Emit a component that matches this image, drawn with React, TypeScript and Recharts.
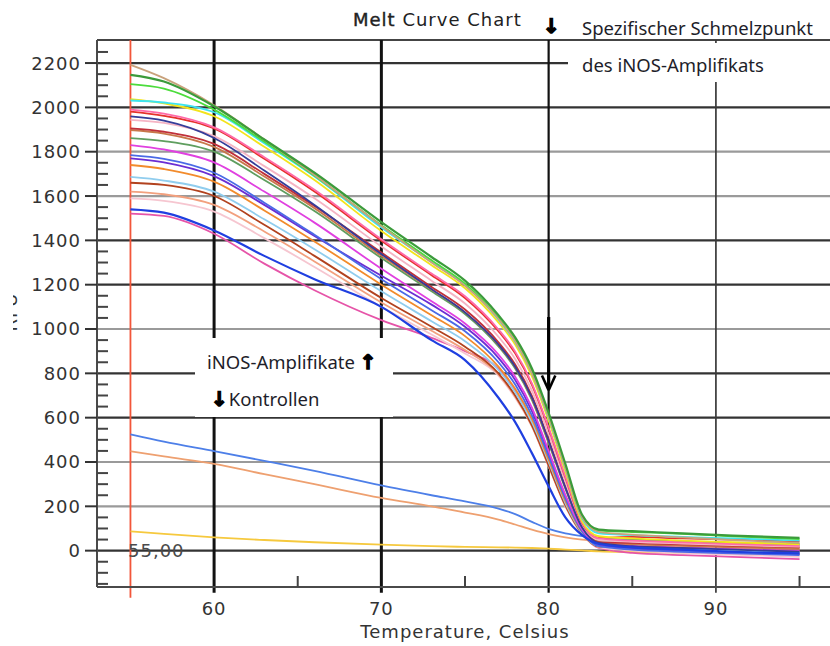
import { LineChart, Line, XAxis, YAxis, ReferenceLine } from 'recharts';

// melt temperatures (°C) at which each trace is sampled
const TEMPS = [55, 57, 60, 63, 66, 70, 73, 75, 77, 78, 79, 80, 81, 82, 83, 85, 88, 91, 95];

// iNOS amplicon traces (RFU)
const tan = [2192, 2132, 2010, 1855, 1695, 1465, 1300, 1195, 1045, 945, 800, 605, 375, 150, 85, 72, 60, 48, 35];
const green = [2147, 2117, 2005, 1855, 1705, 1482, 1325, 1218, 1062, 962, 822, 622, 392, 162, 95, 88, 78, 68, 58];
const lime = [2105, 2085, 1990, 1845, 1692, 1468, 1310, 1205, 1050, 950, 808, 608, 380, 152, 90, 84, 76, 64, 52];
const cyan = [2031, 2022, 1978, 1838, 1688, 1458, 1302, 1198, 1042, 942, 800, 600, 372, 145, 78, 70, 62, 55, 45];
const yellow = [2037, 2018, 1960, 1822, 1672, 1442, 1288, 1184, 1030, 930, 786, 586, 358, 132, 65, 55, 45, 38, 28];
const hotPink = [1990, 1972, 1910, 1775, 1628, 1405, 1250, 1148, 998, 898, 755, 555, 335, 128, 55, 45, 38, 30, 22];
const red = [1981, 1962, 1905, 1768, 1620, 1398, 1243, 1140, 990, 890, 748, 550, 330, 125, 58, 62, 55, 50, 42];
const navy = [1959, 1940, 1862, 1715, 1560, 1338, 1180, 1075, 930, 830, 690, 495, 285, 105, 35, 20, 12, 5, -5];
const blush = [1944, 1930, 1870, 1735, 1590, 1372, 1218, 1115, 965, 865, 722, 525, 310, 115, 48, 40, 32, 25, 18];
const darkRed = [1905, 1890, 1835, 1700, 1555, 1345, 1190, 1088, 940, 840, 698, 500, 290, 110, 38, 35, 28, 22, 15];
const sienna = [1898, 1882, 1822, 1688, 1545, 1330, 1178, 1075, 928, 828, 686, 490, 285, 108, 40, 30, 22, 15, 8];
const sage = [1861, 1848, 1800, 1672, 1532, 1320, 1170, 1068, 922, 822, 680, 485, 280, 105, 42, 48, 40, 35, 30];
const magenta = [1830, 1810, 1752, 1620, 1480, 1272, 1125, 1025, 885, 785, 645, 450, 252, 95, 30, 22, 15, 8, 0];
const blue = [1785, 1768, 1705, 1570, 1425, 1225, 1085, 990, 850, 750, 610, 425, 235, 88, 20, 5, -5, -12, -20];
const purple = [1770, 1752, 1690, 1560, 1420, 1240, 1110, 1010, 870, 770, 630, 440, 245, 90, 25, 10, 0, -8, -15];
const orange = [1740, 1722, 1665, 1535, 1395, 1200, 1062, 968, 830, 730, 595, 410, 225, 85, 28, 30, 25, 20, 15];
const skyBlue = [1686, 1670, 1620, 1495, 1360, 1170, 1035, 945, 815, 715, 580, 400, 215, 80, 20, 12, 5, 0, -6];
const rust = [1660, 1650, 1600, 1470, 1330, 1140, 1010, 920, 800, 700, 565, 385, 205, 78, 18, 15, 10, 6, 0];
const salmon = [1620, 1608, 1560, 1440, 1305, 1120, 992, 905, 795, 695, 562, 382, 202, 76, 22, 18, 12, 5, -3];
const paleRose = [1589, 1578, 1530, 1410, 1280, 1100, 975, 890, 790, 690, 560, 380, 200, 75, 15, 0, -10, -18, -28];
const royal = [1540, 1525, 1445, 1330, 1225, 1100, 950, 860, 690, 580, 440, 290, 150, 70, 30, 15, 5, -5, -12];
const orchid = [1521, 1510, 1430, 1295, 1175, 1040, 960, 900, 820, 720, 580, 390, 205, 78, 12, -10, -20, -28, -38];

// control wells
const ctrlBlue = [525, 492, 449, 405, 360, 294, 250, 222, 190, 165, 130, 98, 78, 66, 58, 50, 40, 32, 24];
const ctrlOrange = [449, 425, 392, 345, 300, 238, 200, 172, 140, 118, 95, 75, 60, 50, 44, 38, 30, 22, 14];
const ctrlYellow = [87, 76, 60, 48, 38, 27, 20, 17, 15, 14, 12, 9, 5, 1, -3, -6, -9, -12, -16];

const Y_LABELS = [0, 200, 400, 600, 800, 1000, 1200, 1400, 1600, 1800, 2000, 2200];
const X_TICKS = [60, 65, 70, 75, 80, 85, 90, 95];
const X_LABELS = [60, 70, 80, 90];
const MELT_POINT = 80;
const START_TEMP = 55;

const Y_MIN = -164;
const Y_MAX = 2304;

// drawn bottom-up so the upper traces sit on top
const SERIES: { key: string; values: number[] }[] = [
  { key: 'ctrlYellow', values: ctrlYellow },
  { key: 'ctrlOrange', values: ctrlOrange },
  { key: 'ctrlBlue', values: ctrlBlue },
  { key: 'orchid', values: orchid },
  { key: 'paleRose', values: paleRose },
  { key: 'salmon', values: salmon },
  { key: 'rust', values: rust },
  { key: 'skyBlue', values: skyBlue },
  { key: 'orange', values: orange },
  { key: 'purple', values: purple },
  { key: 'blue', values: blue },
  { key: 'magenta', values: magenta },
  { key: 'sage', values: sage },
  { key: 'sienna', values: sienna },
  { key: 'darkRed', values: darkRed },
  { key: 'blush', values: blush },
  { key: 'navy', values: navy },
  { key: 'red', values: red },
  { key: 'hotPink', values: hotPink },
  { key: 'yellow', values: yellow },
  { key: 'cyan', values: cyan },
  { key: 'lime', values: lime },
  { key: 'tan', values: tan },
  { key: 'green', values: green },
  { key: 'royal', values: royal },
];

const COLORS: Record<string, string> = {
  tan: '#c9a27c',
  green: '#3b9b3b',
  lime: '#4cdc3c',
  cyan: '#3ee4ee',
  yellow: '#f3e31c',
  hotPink: '#ff6aa8',
  red: '#e5322b',
  navy: '#353d99',
  blush: '#f5b4c4',
  darkRed: '#c0303a',
  sienna: '#c8784a',
  sage: '#5f9e5f',
  magenta: '#e040e0',
  blue: '#4a6ae6',
  purple: '#6b2ed4',
  orange: '#f28b2c',
  skyBlue: '#90cdee',
  rust: '#b2421e',
  salmon: '#f2a07e',
  paleRose: '#f6c6d0',
  royal: '#1f3fe0',
  orchid: '#e654a8',
  ctrlBlue: '#4d7fe8',
  ctrlOrange: '#eea070',
  ctrlYellow: '#f6c93e',
};

const DARK_GRID = new Set([0, 600, 800, 1200, 1400, 2000, 2200]);

const rows = TEMPS.map((t, i) => {
  const row: Record<string, number> = { t };
  SERIES.forEach((s) => {
    row[s.key] = s.values[i];
  });
  return row;
});

// y ticks every 50, labelled every 200
const yTicks: number[] = [];
for (let v = -150; v <= 2250; v += 50) yTicks.push(v);

const AXIS_FONT = { fontFamily: 'DejaVu Sans', fontSize: 18, letterSpacing: 1, fill: '#333' };
const NOTE_FONT = { fontFamily: 'Noto Sans', fontSize: 18.5, fill: '#1e1e2a' };
const ARROW_FONT = { fontFamily: 'DejaVu Sans', fontWeight: 'bold', fontSize: 20, fill: '#000', stroke: '#000', strokeWidth: 1.4 };

function YTick({ x, y, payload }: any) {
  const v = payload.value;
  if (Y_LABELS.includes(v)) {
    return (
      <g>
        <line x1={x - 12} x2={x} y1={y} y2={y} stroke="#333" strokeWidth={2} />
        <text x={x - 16} y={y} dy="0.36em" textAnchor="end" {...AXIS_FONT}>
          {v}
        </text>
      </g>
    );
  }
  return <line x1={x} x2={x + 11} y1={y} y2={y} stroke="#444" strokeWidth={2} />;
}

function XTick({ x, y, payload }: any) {
  const v = payload.value;
  if (X_LABELS.includes(v)) {
    return (
      <text x={x} y={y + 28} textAnchor="middle" {...AXIS_FONT}>
        {v}
      </text>
    );
  }
  return <line x1={x} x2={x} y1={y} y2={y - 11} stroke="#444" strokeWidth={2} />;
}

export default function App() {
  return (
    <div style={{ position: 'absolute', left: 0, top: 0, width: 830, height: 646, overflow: 'hidden', background: '#fff' }}>
      <LineChart width={833} height={646} data={rows} margin={{ top: 40, right: 0, bottom: 0, left: 37 }}>
        <XAxis
          type="number"
          dataKey="t"
          domain={[53, 97]}
          ticks={X_TICKS}
          interval={0}
          allowDataOverflow
          height={59}
          tickSize={0}
          tickMargin={0}
          tickLine={false}
          tick={XTick}
          axisLine={{ stroke: '#4a4a4a', strokeWidth: 2 }}
        />
        <YAxis
          type="number"
          domain={[Y_MIN, Y_MAX]}
          ticks={yTicks}
          interval={0}
          allowDataOverflow
          width={60}
          tickSize={0}
          tickMargin={0}
          tickLine={false}
          tick={YTick}
          axisLine={{ stroke: '#4a4a4a', strokeWidth: 2 }}
        />

        {/* horizontal grid, alternating dark / light */}
        {Y_LABELS.map((v) => (
          <ReferenceLine
            key={`h${v}`}
            y={v}
            stroke={DARK_GRID.has(v) ? '#333' : '#9a9a9a'}
            strokeWidth={2.2}
            zIndex={-10}
          />
        ))}
        <ReferenceLine y={Y_MAX} stroke="#444" strokeWidth={2} zIndex={-10} />

        {/* vertical grid at the labelled temperatures */}
        {X_LABELS.map((v) => (
          <ReferenceLine
            key={`v${v}`}
            segment={[
              { x: v, y: Y_MAX },
              { x: v, y: -190 },
            ]}
            ifOverflow="visible"
            stroke={v === 90 ? '#3a3a3a' : '#111'}
            strokeWidth={v < 80 ? 3 : v === 80 ? 2.2 : 1.7}
            zIndex={-10}
          />
        ))}

        {/* cursor at the start temperature */}
        <ReferenceLine
          segment={[
            { x: START_TEMP, y: Y_MAX },
            { x: START_TEMP, y: -213 },
          ]}
          ifOverflow="visible"
          stroke="#f2563a"
          strokeWidth={1.8}
        />

        {SERIES.map((s) => (
          <Line
            key={s.key}
            type="monotone"
            dataKey={s.key}
            stroke={COLORS[s.key]}
            strokeWidth={s.key === 'royal' || s.key === 'green' ? 2.2 : 1.8}
            dot={false}
            isAnimationActive={false}
          />
        ))}

        {/* arrow marking the specific melting point */}
        <ReferenceLine
          segment={[
            { x: MELT_POINT, y: 1054 },
            { x: MELT_POINT, y: 735 },
          ]}
          stroke="#000"
          strokeWidth={3.2}
        />
        <ReferenceLine
          segment={[
            { x: MELT_POINT - 0.4, y: 790 },
            { x: MELT_POINT, y: 724 },
          ]}
          stroke="#000"
          strokeWidth={2.6}
        />
        <ReferenceLine
          segment={[
            { x: MELT_POINT + 0.4, y: 790 },
            { x: MELT_POINT, y: 724 },
          ]}
          stroke="#000"
          strokeWidth={2.6}
        />
      </LineChart>

      <svg width={830} height={646} style={{ position: 'absolute', left: 0, top: 0, pointerEvents: 'none' }}>
        <defs>
          <clipPath id="rfu-clip">
            <rect x={13} y={250} width={20} height={120} />
          </clipPath>
        </defs>

        <text x={353} y={26} fontFamily="DejaVu Sans" fontSize={18} letterSpacing={1} fill="#222">
          <tspan stroke="#222" strokeWidth={0.4}>Melt</tspan> Curve Chart
        </text>
        <text x={543} y={33} {...ARROW_FONT}>
          ↓
        </text>

        <text x={582} y={35} {...NOTE_FONT}>
          Spezifischer Schmelzpunkt
        </text>
        <rect x={568} y={43} width={262} height={39} fill="#fff" />
        <text x={582} y={72} {...NOTE_FONT}>
          des iNOS-Amplifikats
        </text>

        <rect x={195} y={338} width={198} height={79} fill="#fff" />
        <text x={207} y={369} {...NOTE_FONT}>
          iNOS-Amplifikate{' '}
          <tspan {...ARROW_FONT}>↑</tspan>
        </text>
        <text x={211} y={406} {...NOTE_FONT}>
          <tspan {...ARROW_FONT}>↓</tspan>
          <tspan dx={1}>Kontrollen</tspan>
        </text>

        <text x={128} y={557} {...AXIS_FONT} fill="#4a4a4a">
          55,00
        </text>

        <text x={465} y={638} textAnchor="middle" {...AXIS_FONT}>
          Temperature, Celsius
        </text>

        <g clipPath="url(#rfu-clip)">
          <text transform="translate(17,312) rotate(-90)" textAnchor="middle" {...AXIS_FONT}>
            RFU
          </text>
        </g>
      </svg>
    </div>
  );
}
